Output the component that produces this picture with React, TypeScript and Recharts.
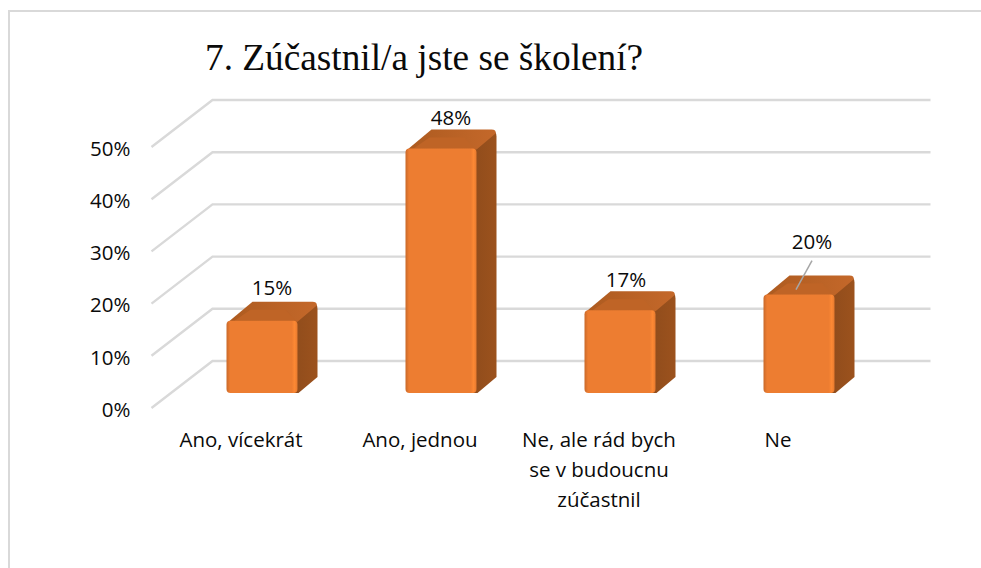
import { BarChart, Bar, XAxis, YAxis, CartesianGrid, LabelList } from 'recharts'

const categories = ['Ano, vícekrát', 'Ano, jednou', 'Ne, ale rád bych se v budoucnu zúčastnil', 'Ne']
const shares = [15, 48, 17, 20]
const yTicks = [0, 10, 20, 30, 40, 50]

const chartData = categories.map((category, i) => ({ category, share: shares[i] }))

// fake 3D: offset of the back wall and of the bar plane from the front plane
const WALL_DX = 61
const WALL_DY = -47
const BAR_DX = 21
const BAR_BOTTOM_DY = -15
const BAR_TOP_DY = -9
const DEPTH_X = 20
const DEPTH_Y = 17

const GRID = '#d9d9d9'
const FONT = '"Open Sans", sans-serif'
const FONT_SIZE = 20.5
const INK = '#0a0a0a'

function wrapWords(text: string, maxChars: number): string[] {
  const lines: string[] = []
  let line = ''
  for (const word of text.split(' ')) {
    const next = line ? line + ' ' + word : word
    if (next.length > maxChars && line) {
      lines.push(line)
      line = word
    } else {
      line = next
    }
  }
  lines.push(line)
  return lines
}

function WallLine(props: any) {
  const { x1, x2, y1 } = props
  const backY = y1 + WALL_DY
  return (
    <polyline
      points={`${x1},${y1} ${x1 + WALL_DX},${backY} ${x2 + WALL_DX + 2},${backY}`}
      fill="none"
      stroke={GRID}
      strokeWidth={2.4}
    />
  )
}

function CategoryTick({ x, y, payload }: any) {
  return (
    <text textAnchor="middle" fontFamily={FONT} fontSize={FONT_SIZE} fill={INK}>
      {wrapWords(payload.value, 17).map((line, i) => (
        <tspan key={i} x={x} y={y + 31 + i * 30}>{line}</tspan>
      ))}
    </text>
  )
}

function Bar3D({ x, y, width, height }: any) {
  const left = x + BAR_DX
  const right = left + width
  const top = y + BAR_TOP_DY
  const bottom = y + height + BAR_BOTTOM_DY
  return (
    <g>
      <path
        d={`M${right - 5} ${top + 2} L${right + DEPTH_X - 5} ${top - DEPTH_Y - 1}
            Q${right + DEPTH_X} ${top - DEPTH_Y - 1} ${right + DEPTH_X} ${top - DEPTH_Y + 5}
            L${right + DEPTH_X} ${bottom - DEPTH_Y + 1} L${right + 1} ${bottom} L${right - 5} ${bottom} Z`}
        fill="url(#sideFace)"
      />
      <path
        d={`M${left + 2} ${top + 1} L${left + 26} ${top - DEPTH_Y - 2} L${right + DEPTH_X - 5} ${top - DEPTH_Y - 2}
            Q${right + DEPTH_X} ${top - DEPTH_Y - 2} ${right + DEPTH_X - 1} ${top - DEPTH_Y + 2}
            L${right} ${top + 1} Z`}
        fill="url(#topFace)"
      />
      <path
        d={`M${left + 8} ${top} L${left + 24} ${top - 11} L${right - 12} ${top - 11} L${right - 2} ${top} Z`}
        fill="#bf6426"
      />
      <rect x={left} y={top} width={width} height={bottom - top} rx={4} fill="url(#frontFace)" />
    </g>
  )
}

function ShareLabel({ x, y, width, value, index }: any) {
  const cx = x + BAR_DX + width / 2
  const top = y + BAR_TOP_DY
  // the last label was dragged up in the original and has a leader line
  if (index === 3) {
    return (
      <g>
        <line x1={cx + 13} y1={top - 34} x2={cx - 3} y2={top - 5} stroke="#a6a6a6" strokeWidth={1.5} />
        <text x={cx + 13} y={top - 46} textAnchor="middle" fontFamily={FONT} fontSize={FONT_SIZE} fill={INK}>
          {value}%
        </text>
      </g>
    )
  }
  return (
    <text
      x={cx + (index === 2 ? 6 : 10)}
      y={top - (index === 0 ? 26 : 23)}
      textAnchor="middle"
      fontFamily={FONT}
      fontSize={FONT_SIZE}
      fill={INK}
    >
      {value}%
    </text>
  )
}

export default function App() {
  return (
    <div style={{ position: 'absolute', left: 0, top: 0, width: 981, height: 568, background: '#fff', overflow: 'hidden' }}>
      <div
        style={{
          position: 'absolute',
          left: 8,
          top: 10,
          right: -2,
          bottom: -2,
          borderLeft: `2px solid ${GRID}`,
          borderTop: `2px solid ${GRID}`,
        }}
      />
      <BarChart
        width={981}
        height={568}
        data={chartData}
        margin={{ top: 147, right: 113.5, bottom: 0, left: 91.5 }}
        style={{ position: 'absolute', left: 0, top: 0 }}
      >
        <defs>
          <linearGradient id="frontFace" x1="0" y1="0" x2="1" y2="0">
            <stop offset="0" stopColor="#c9692a" />
            <stop offset="0.05" stopColor="#ed7d31" />
            <stop offset="0.92" stopColor="#ed7d31" />
            <stop offset="0.96" stopColor="#fd8934" />
            <stop offset="1" stopColor="#e67a2f" />
          </linearGradient>
          <linearGradient id="sideFace" x1="0" y1="0" x2="1" y2="0">
            <stop offset="0" stopColor="#8f4c1c" />
            <stop offset="1" stopColor="#9c521d" />
          </linearGradient>
          <linearGradient id="topFace" x1="0" y1="0" x2="1" y2="0">
            <stop offset="0" stopColor="#ad5b20" />
            <stop offset="1" stopColor="#c4682a" />
          </linearGradient>
        </defs>
        <text x={205} y={70} fontFamily='"Liberation Serif", serif' fontSize={37.3} fill={INK}>
          7. Zúčastnil/a jste se školení?
        </text>
        <CartesianGrid vertical={false} horizontal={(p: any) => <WallLine key={p.key} {...p} />} />
        <XAxis
          dataKey="category"
          axisLine={false}
          tickLine={false}
          interval={0}
          height={160}
          tick={(p: any) => <CategoryTick {...p} />}
        />
        <YAxis
          domain={[0, 50]}
          ticks={yTicks}
          width={60}
          axisLine={false}
          tickLine={false}
          tickMargin={15}
          tickFormatter={(v) => `${v}%`}
          tick={{ fill: INK, fontSize: FONT_SIZE, fontFamily: FONT, dy: 1.5 }}
        />
        <Bar dataKey="share" barSize={71} isAnimationActive={false} shape={(p: any) => <Bar3D {...p} />}>
          <LabelList dataKey="share" content={(p: any) => <ShareLabel {...p} />} />
        </Bar>
      </BarChart>
    </div>
  )
}
